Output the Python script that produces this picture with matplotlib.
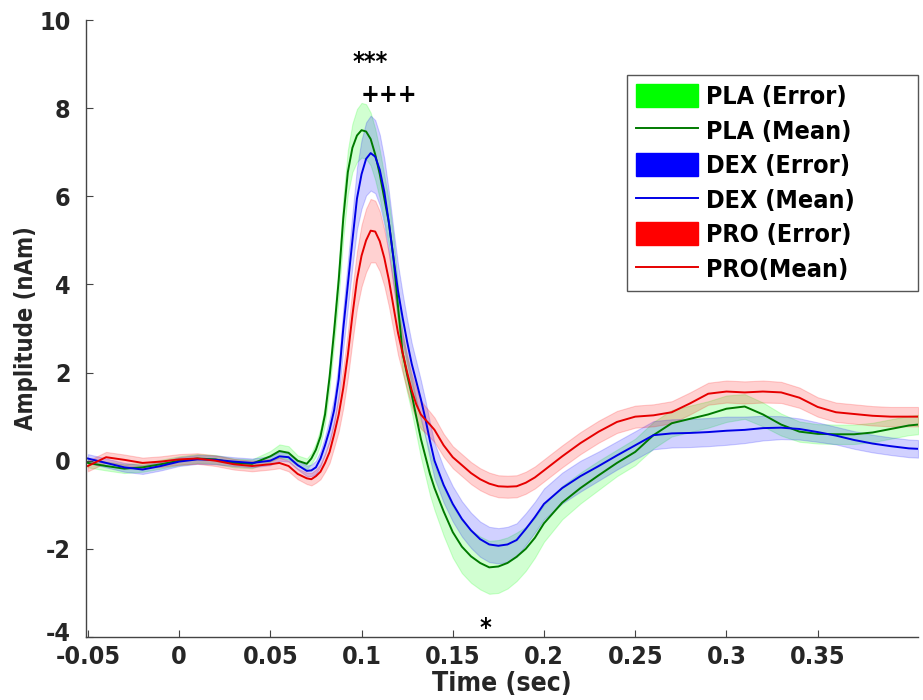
import numpy as np
import matplotlib
matplotlib.use("Agg")
import matplotlib.pyplot as plt
import matplotlib.transforms as mtransforms
from matplotlib.patches import Patch
from matplotlib.lines import Line2D

# ---------------- data ----------------
time = [-0.05, -0.04, -0.03, -0.02, -0.01, 0.0, 0.01, 0.02, 0.03, 0.04,
        0.05, 0.055, 0.06, 0.065, 0.07,
        0.0725, 0.075, 0.0775, 0.08, 0.0825, 0.085, 0.0875, 0.09, 0.0925,
        0.095, 0.0975, 0.1, 0.1025, 0.105, 0.1075, 0.11, 0.1125, 0.115,
        0.1175, 0.12, 0.1225, 0.125, 0.1275, 0.13, 0.1325, 0.135, 0.1375, 0.14,
        0.145, 0.15, 0.155, 0.16, 0.165, 0.17, 0.175, 0.18, 0.185, 0.19, 0.195,
        0.2, 0.21, 0.22, 0.23, 0.24, 0.25, 0.26, 0.27, 0.28, 0.29,
        0.3, 0.31, 0.32, 0.33, 0.34, 0.35, 0.36, 0.37, 0.38, 0.39,
        0.4, 0.405]

pla_mean = [-0.05, -0.12, -0.18, -0.15, -0.08, 0.0, 0.05, 0.03, -0.05, -0.07,
            0.1, 0.22, 0.18, 0.0, -0.07,
            0.05, 0.25, 0.55, 1.05, 1.9, 2.95, 4.1, 5.5, 6.55,
            7.1, 7.38, 7.5, 7.47, 7.3, 6.95, 6.5, 5.95, 5.4,
            4.6, 3.5, 2.45, 1.95, 1.5, 1.0, 0.5, 0.1, -0.3, -0.62,
            -1.15, -1.62, -1.95, -2.17, -2.32, -2.42, -2.4, -2.32, -2.18, -2.0, -1.75,
            -1.42, -0.95, -0.62, -0.33, -0.05, 0.2, 0.58, 0.85, 0.95, 1.05,
            1.18, 1.23, 1.05, 0.82, 0.66, 0.61, 0.6, 0.6, 0.64, 0.72,
            0.8, 0.82]
pla_err = [0.1, 0.1, 0.1, 0.1, 0.1, 0.1, 0.1, 0.1, 0.1, 0.1,
           0.12, 0.15, 0.15, 0.12, 0.12,
           0.12, 0.15, 0.18, 0.2, 0.25, 0.3, 0.38, 0.45, 0.5,
           0.55, 0.6, 0.62, 0.62, 0.6, 0.58, 0.55, 0.52, 0.5,
           0.48, 0.45, 0.42, 0.4, 0.4, 0.4, 0.42, 0.45, 0.48, 0.5,
           0.55, 0.58, 0.6, 0.6, 0.6, 0.6, 0.6, 0.58, 0.55, 0.5, 0.45,
           0.42, 0.38, 0.35, 0.33, 0.3, 0.3, 0.3, 0.3, 0.3, 0.3,
           0.3, 0.28, 0.27, 0.25, 0.23, 0.22, 0.22, 0.22, 0.22, 0.22,
           0.22, 0.22]

dex_mean = [0.05, -0.05, -0.15, -0.2, -0.12, -0.02, 0.03, 0.02, -0.02, -0.05,
            0.0, 0.1, 0.08, -0.1, -0.23,
            -0.22, -0.15, 0.05, 0.35, 0.7, 1.15, 1.85, 3.0, 4.0,
            5.0, 5.95, 6.5, 6.85, 6.98, 6.9, 6.6, 6.1, 5.4,
            4.6, 3.85, 3.25, 2.7, 2.2, 1.8, 1.4, 0.95, 0.45, 0.0,
            -0.55, -0.98, -1.32, -1.58, -1.78, -1.9, -1.93, -1.9, -1.8, -1.55, -1.28,
            -0.98, -0.62, -0.35, -0.12, 0.12, 0.35, 0.58, 0.62, 0.63, 0.65,
            0.68, 0.7, 0.74, 0.75, 0.72, 0.65, 0.57, 0.47, 0.39, 0.33,
            0.28, 0.27]
dex_err = [0.1, 0.1, 0.1, 0.1, 0.1, 0.1, 0.1, 0.1, 0.1, 0.1,
           0.1, 0.1, 0.1, 0.1, 0.12,
           0.13, 0.15, 0.17, 0.2, 0.25, 0.3, 0.38, 0.45, 0.52,
           0.6, 0.7, 0.78, 0.83, 0.85, 0.83, 0.8, 0.75, 0.7,
           0.65, 0.6, 0.55, 0.5, 0.47, 0.45, 0.43, 0.42, 0.41, 0.4,
           0.4, 0.4, 0.4, 0.4, 0.4, 0.4, 0.4, 0.4, 0.38, 0.36, 0.35,
           0.35, 0.35, 0.35, 0.33, 0.32, 0.32, 0.32, 0.32, 0.32, 0.32,
           0.32, 0.3, 0.28, 0.26, 0.24, 0.22, 0.2, 0.2, 0.2, 0.2,
           0.2, 0.2]

pro_mean = [-0.12, 0.08, 0.02, -0.05, -0.02, 0.03, 0.05, 0.0, -0.08, -0.12,
            -0.08, -0.05, -0.12, -0.3, -0.4,
            -0.42, -0.35, -0.25, -0.05, 0.2, 0.6, 1.05, 1.65, 2.4,
            3.3, 4.1, 4.65, 5.0, 5.22, 5.2, 4.98, 4.6, 4.1,
            3.5, 2.9, 2.45, 2.0, 1.6, 1.28, 1.05, 0.93, 0.82, 0.7,
            0.35, 0.08, -0.1, -0.28, -0.42, -0.52, -0.58, -0.59, -0.58, -0.5, -0.38,
            -0.22, 0.1, 0.4, 0.66, 0.88, 1.0, 1.03, 1.1, 1.3, 1.52,
            1.57, 1.55, 1.57, 1.55, 1.43, 1.22, 1.1, 1.06, 1.02, 1.0,
            1.0, 1.0]
pro_err = [0.12, 0.12, 0.12, 0.12, 0.12, 0.12, 0.12, 0.12, 0.12, 0.12,
           0.12, 0.12, 0.12, 0.12, 0.13,
           0.14, 0.15, 0.17, 0.2, 0.25, 0.3, 0.38, 0.45, 0.52,
           0.6, 0.65, 0.7, 0.72, 0.72, 0.7, 0.68, 0.64, 0.6,
           0.55, 0.5, 0.45, 0.4, 0.37, 0.35, 0.32, 0.3, 0.29, 0.28,
           0.26, 0.25, 0.25, 0.25, 0.25, 0.25, 0.25, 0.25, 0.25, 0.25, 0.25,
           0.25, 0.25, 0.25, 0.25, 0.25, 0.25, 0.25, 0.25, 0.25, 0.25,
           0.25, 0.25, 0.25, 0.24, 0.23, 0.22, 0.22, 0.22, 0.22, 0.22,
           0.22, 0.22]

series_names = ["PLA", "DEX", "PRO"]
legend_labels = ["PLA (Error)", "PLA (Mean)", "DEX (Error)", "DEX (Mean)",
                 "PRO (Error)", "PRO(Mean)"]
x_ticks = [-0.05, 0, 0.05, 0.1, 0.15, 0.2, 0.25, 0.3, 0.35]
x_tick_labels = ["-0.05", "0", "0.05", "0.1", "0.15", "0.2", "0.25", "0.3", "0.35"]
y_ticks = [-4, -2, 0, 2, 4, 6, 8, 10]
y_tick_labels = ["-4", "-2", "0", "2", "4", "6", "8", "10"]
annotations = [("***", 0.1045, 9.05), ("+++", 0.115, 8.3), ("*", 0.168, -3.8)]

# ---------------- plot ----------------
plt.rcParams['font.family'] = ['DejaVu Sans']
plt.rcParams['font.weight'] = 'bold'
plt.rcParams['font.stretch'] = 'condensed'
plt.rcParams['axes.unicode_minus'] = False

fig = plt.figure(figsize=(9.23, 7.0), dpi=100)
ax = fig.add_axes([0.0932, 0.09, 0.9014, 0.8814])

t = np.array(time)
fills = ["#00ff00", "#0000ff", "#ff0000"]
lines = ["#007a00", "#0000e6", "#e60000"]
data = [(pla_mean, pla_err), (dex_mean, dex_err), (pro_mean, pro_err)]

for (m, e), fc, lc in zip(data, fills, lines):
    m = np.array(m); e = np.array(e)
    ax.fill_between(t, m - e, m + e, facecolor=fc, alpha=0.18,
                    edgecolor=fc, linewidth=0.8)
for (m, e), fc, lc in zip(data, fills, lines):
    ax.plot(t, m, color=lc, lw=1.4)

for txt, xx, yy in annotations:
    ax.text(xx, yy, txt, ha='center', va='center', fontsize=18,
            fontweight='bold', color='black')

ax.set_xlim(-0.051, 0.405)
ax.set_ylim(-4, 10)
ax.set_xticks(x_ticks)
ax.set_xticklabels(x_tick_labels)
ax.set_yticks(y_ticks)
ax.set_yticklabels(y_tick_labels)
ax.tick_params(direction='in', length=5, width=0.8, labelsize=18,
               color='#444444', labelcolor='#262626')
ax.tick_params(axis='y', pad=11)
ax.tick_params(axis='x', pad=6)
for lab in ax.get_xticklabels() + ax.get_yticklabels():
    lab.set_fontweight('bold')
# nudge the lowest y label slightly upward (as in the reference)
lowest = ax.get_yticklabels()[0]
lowest.set_transform(lowest.get_transform() +
                     mtransforms.ScaledTranslation(0, 4 / 72, fig.dpi_scale_trans))
for s in ['top', 'right']:
    ax.spines[s].set_visible(False)
for s in ['left', 'bottom']:
    ax.spines[s].set_color('#444444')
    ax.spines[s].set_linewidth(1.0)

ax.set_xlabel("Time (sec)", fontsize=19, fontweight='bold', color='#262626',
              labelpad=1)
ax.set_ylabel("Amplitude (nAm)", fontsize=17, fontweight='bold',
              color='#262626', labelpad=1)

handles = []
for fc, lc in zip(fills, lines):
    handles.append(Patch(facecolor=fc, edgecolor=fc))
    handles.append(Line2D([0], [0], color=lc, lw=1.4))
leg = ax.legend(handles, legend_labels,
                bbox_to_anchor=(627 / 923, 1 - 289 / 700, 291 / 923, 214 / 700),
                bbox_transform=fig.transFigure, loc='upper left', mode='expand',
                borderaxespad=0, prop={'weight': 'bold', 'size': 18,
                                        'stretch': 'condensed'},
                handlelength=2.5, handleheight=1.05, handletextpad=0.3,
                labelspacing=0.38, borderpad=0.35, fancybox=False,
                edgecolor='#555555', framealpha=1)
leg.get_frame().set_linewidth(1.0)

fig.savefig("out.png", dpi=100)
